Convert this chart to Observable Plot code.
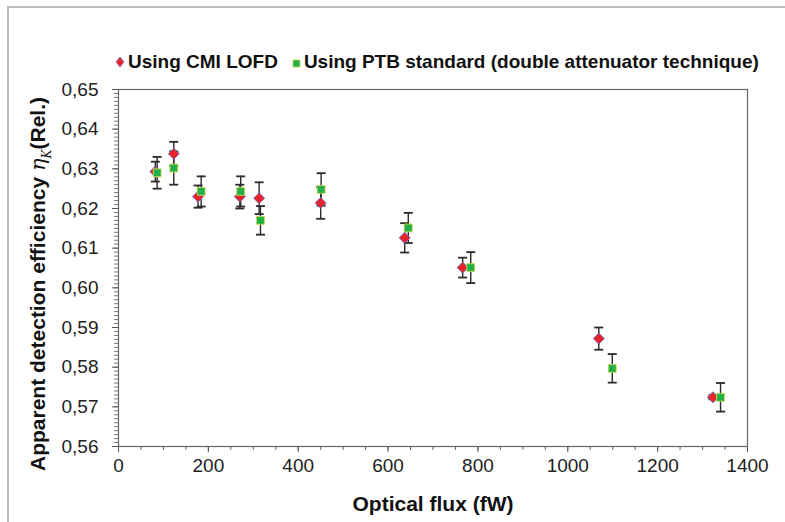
<!DOCTYPE html>
<html><head><meta charset="utf-8">
<script src="https://cdn.jsdelivr.net/npm/d3@7"></script>
<script src="https://cdn.jsdelivr.net/npm/@observablehq/plot@0.6"></script>
<style>
body{margin:0;background:#fff;}
#wrap{position:relative;width:785px;height:522px;overflow:hidden;font-family:"Liberation Sans",Arial,sans-serif;background:#fff;}
#frame{position:absolute;left:7px;top:6px;width:800px;height:540px;border:2px solid #bdbdbd;}
#legend{position:absolute;left:115px;top:51px;font-weight:bold;font-size:19px;white-space:nowrap;color:#111;}
#legend svg{vertical-align:0px;}
#sq{margin-left:14px;margin-right:3px;}
#lg1{margin-left:3px;}
#ylabel{position:absolute;left:40px;top:284px;transform:translate(-50%,-50%) rotate(-90deg);font-weight:bold;font-size:21px;white-space:nowrap;color:#111;}
#xlabel{position:absolute;left:433px;top:492px;transform:translateX(-50%);font-weight:bold;font-size:21px;white-space:nowrap;color:#111;}
#plot{position:absolute;left:0;top:0;}
.eta{font-family:"DejaVu Serif",serif;font-style:italic;font-weight:normal;}
</style></head>
<body>
<div id="wrap">
  <div id="frame"></div>
  <div id="plot"></div>
  <div id="legend"><svg width="10" height="12"><path d="M5,1L9,6L5,11L1,6Z" fill="#e8242b" stroke="#5b6fd6" stroke-width="0.7"/></svg><span id="lg1"></span><svg id="sq" width="9" height="9"><rect x="1" y="1" width="7" height="7" fill="#22b04a" stroke="#c8d850" stroke-width="0.8"/></svg><span id="lg2"></span></div>
  <div id="ylabel">Apparent detection efficiency <span class="eta">η<sub style="font-size:12px">K</sub></span>(Rel.)</div>
  <div id="xlabel"></div>
</div>
<script>
// Series names
const seriesNames = ["Using CMI LOFD", "Using PTB standard (double attenuator technique)"];
const xTitle = "Optical flux (fW)";
// Using CMI LOFD
const fluxCMI = [82, 123, 177, 270, 313, 450, 637, 766, 1069, 1323];
const etaCMI  = [0.6293, 0.6338, 0.6230, 0.6230, 0.6226, 0.6214, 0.6126, 0.6051, 0.5872, 0.5724];
const errCMI  = [0.0025, 0.0030, 0.0028, 0.0030, 0.0040, 0.0040, 0.0037, 0.0025, 0.0028, 0.0005];
// Using PTB standard
const fluxPTB = [86, 123, 184, 272, 316, 451, 645, 784, 1099, 1340];
const etaPTB  = [0.6290, 0.6302, 0.6243, 0.6243, 0.6170, 0.6248, 0.6151, 0.6051, 0.5797, 0.5724];
const errPTB  = [0.0040, 0.0042, 0.0038, 0.0038, 0.0036, 0.0041, 0.0038, 0.0039, 0.0036, 0.0036];
// Ticks
const xTicks = [0, 200, 400, 600, 800, 1000, 1200, 1400];
const yTicks = [0.56, 0.57, 0.58, 0.59, 0.60, 0.61, 0.62, 0.63, 0.64, 0.65];
const xMinorStep = 50;
const yMinorStep = 0.001;

document.getElementById("lg1").textContent = seriesNames[0];
document.getElementById("lg2").textContent = seriesNames[1];
document.getElementById("xlabel").textContent = xTitle;

const rows = (fx, fy, fe) => fx.map((x, i) => ({x, y: fy[i], lo: fy[i] - fe[i], hi: fy[i] + fe[i]}));
const cmi = rows(fluxCMI, etaCMI, errCMI);
const ptb = rows(fluxPTB, etaPTB, errPTB);
const minorX = d3.range(0, 1400 + 1, xMinorStep);
const minorY = d3.range(560, 651, yMinorStep * 1000).map(d => d / 1000);

const cap = {draw(ctx, size) { const r = Math.sqrt(size / Math.PI); ctx.moveTo(-r, 0); ctx.lineTo(r, 0); }};
const errMarks = (data) => [
  Plot.ruleX(data, {x: "x", y1: "lo", y2: "hi", stroke: "#2a2a2a", strokeWidth: 1.4}),
  Plot.dot(data, {x: "x", y: "lo", symbol: cap, r: 4.5, stroke: "#2a2a2a", strokeWidth: 1.8, fill: "none"}),
  Plot.dot(data, {x: "x", y: "hi", symbol: cap, r: 4.5, stroke: "#2a2a2a", strokeWidth: 1.8, fill: "none"})
];

const chart = Plot.plot({
  width: 785, height: 522,
  marginLeft: 118, marginRight: 38, marginTop: 89, marginBottom: 76,
  x: {domain: [0, 1400]},
  y: {domain: [0.56, 0.65]},
  style: {fontFamily: "Liberation Sans, Arial, sans-serif", fontSize: "19px", color: "#222", background: "transparent"},
  marks: [
    Plot.axisX(minorX, {tickSize: 4, tickFormat: () => "", label: null, stroke: "#666"}),
    Plot.axisX(xTicks, {tickSize: 6, tickPadding: 6, tickFormat: d => String(d), label: null, stroke: "#555", fill: "#222"}),
    Plot.axisY(minorY, {tickSize: 4, tickFormat: () => "", label: null, stroke: "#777"}),
    Plot.axisY(yTicks, {tickSize: 6, tickPadding: 14, tickFormat: d => d.toFixed(2).replace(".", ","), label: null, stroke: "#555", fill: "#222"}),
    Plot.frame({stroke: "#666", strokeWidth: 1.2}),
    ...errMarks(cmi),
    ...errMarks(ptb),
    Plot.dot(cmi, {x: "x", y: "y", symbol: "diamond2", r: 5, fill: "#e8242b", stroke: "#5b6fd6", strokeWidth: 0.8}),
    Plot.dot(ptb, {x: "x", y: "y", symbol: "square2", r: 5, fill: "#22b04a", stroke: "#c8d850", strokeWidth: 0.9})
  ]
});
document.getElementById("plot").appendChild(chart);
</script>
</body></html>
